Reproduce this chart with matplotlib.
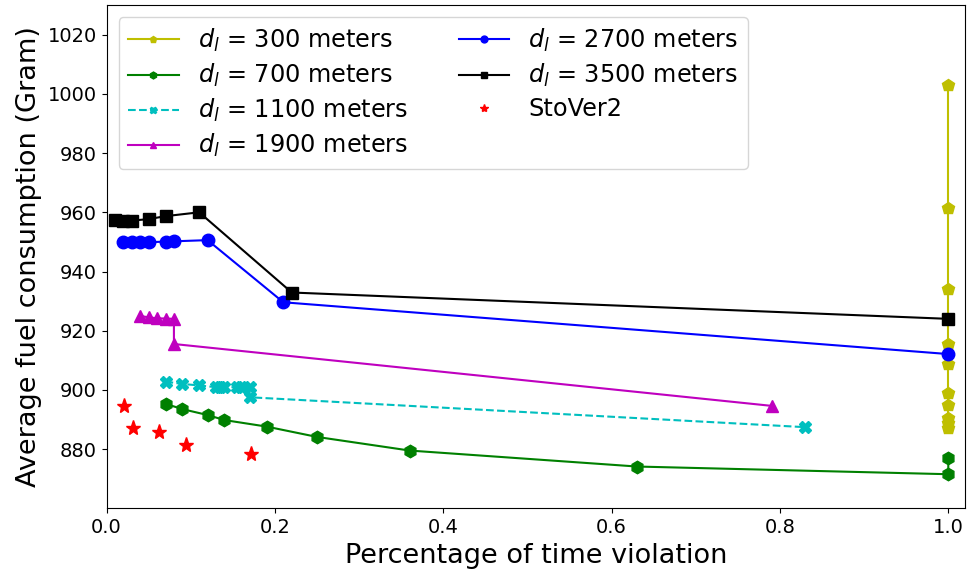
import matplotlib
matplotlib.use("Agg")
import matplotlib.pyplot as plt

# fuel use vs. share of time violation, one curve per look-ahead distance d_l
x_300 = [1.0, 1.0, 1.0, 1.0, 1.0, 1.0, 1.0, 1.0, 1.0, 1.0]
y_300 = [1002.9, 961.4, 934.1, 915.6, 908.8, 899.1, 894.9, 890.4, 888.7, 887.0]

x_700 = [0.07, 0.09, 0.12, 0.14, 0.19, 0.25, 0.36, 0.63, 1.0, 1.0]
y_700 = [895.3, 893.5, 891.5, 889.8, 887.6, 884.1, 879.5, 874.1, 871.5, 877.1]

x_1100 = [0.07, 0.09, 0.11, 0.13, 0.135, 0.14, 0.155, 0.16, 0.17, 0.17, 0.83]
y_1100 = [902.8, 902.0, 901.5, 900.9, 900.9, 900.9, 900.9, 900.9, 900.9, 897.5, 887.4]

x_1900 = [0.04, 0.05, 0.06, 0.07, 0.08, 0.08, 0.79]
y_1900 = [925.0, 924.5, 924.2, 924.1, 924.0, 915.5, 894.6]

x_2700 = [0.02, 0.03, 0.04, 0.05, 0.07, 0.08, 0.12, 0.21, 1.0]
y_2700 = [949.9, 949.8, 949.9, 949.9, 950.1, 950.2, 950.6, 929.6, 912.1]

x_3500 = [0.01, 0.02, 0.03, 0.05, 0.07, 0.11, 0.22, 1.0]
y_3500 = [957.3, 957.0, 957.2, 957.7, 958.7, 960.0, 932.9, 924.0]

x_stover = [0.021, 0.031, 0.062, 0.094, 0.172]
y_stover = [894.6, 887.0, 885.6, 881.4, 878.4]

fig = plt.figure(figsize=(9.69, 5.73), dpi=100)
ax = fig.add_axes([0.110, 0.113, 0.886, 0.878])

lw = 1.5
ms = 9
ax.plot(x_300, y_300, color="y", marker="p", ms=ms, lw=lw, label=r"$d_l$ = 300 meters")
ax.plot(x_700, y_700, color="g", marker="h", ms=ms, lw=lw, label=r"$d_l$ = 700 meters")
ax.plot(x_1100, y_1100, color="c", marker="X", ms=ms, lw=lw, ls="--", label=r"$d_l$ = 1100 meters")
ax.plot(x_1900, y_1900, color="m", marker="^", ms=ms, lw=lw, label=r"$d_l$ = 1900 meters")
ax.plot(x_2700, y_2700, color="b", marker="o", ms=ms, lw=lw, label=r"$d_l$ = 2700 meters")
ax.plot(x_3500, y_3500, color="k", marker="s", ms=ms, lw=lw, label=r"$d_l$ = 3500 meters")
ax.plot(x_stover, y_stover, color="r", marker="*", ms=11, ls="none", label="StoVer2")

ax.set_xlim(0, 1.02)
ax.set_ylim(860, 1030)
ax.set_yticks(range(880, 1021, 20))
ax.tick_params(labelsize=14)
ax.set_xlabel("Percentage of time violation", fontsize=19.5)
ax.set_ylabel("Average fuel consumption (Gram)", fontsize=19.5)
ax.legend(loc="upper left", ncol=2, fontsize=17.3, markerscale=0.55,
          labelspacing=0.33, handlelength=2.1, columnspacing=2.1)

fig.savefig("out.png", dpi=100)
